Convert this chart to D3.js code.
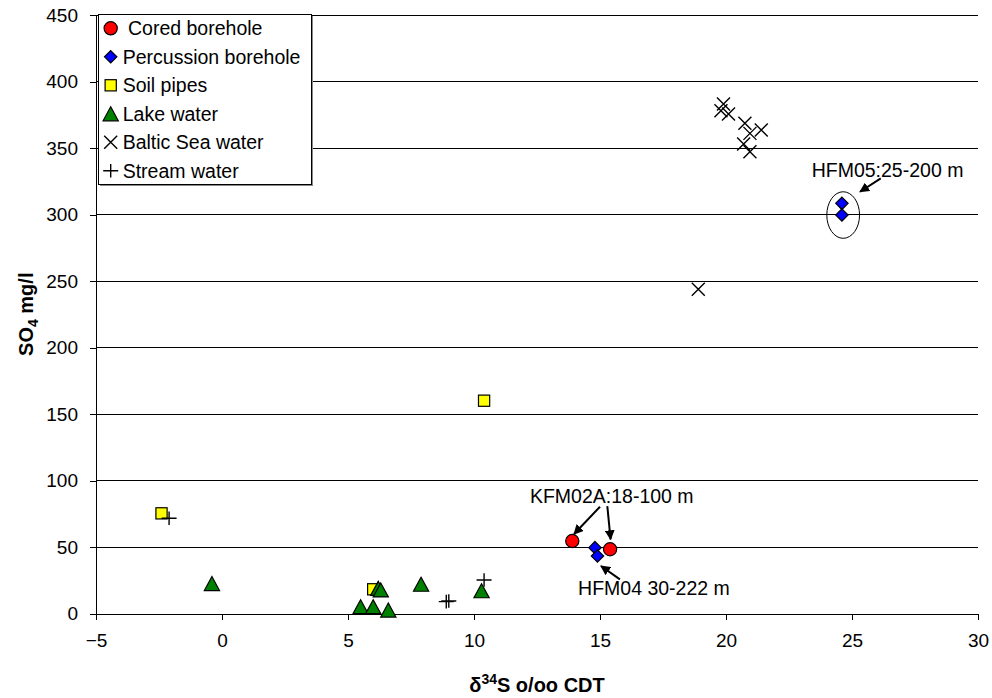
<!DOCTYPE html>
<html>
<head>
<meta charset="utf-8">
<script src="https://cdn.jsdelivr.net/npm/d3@7"></script>
<style>
  html, body { margin: 0; padding: 0; background: #fff; }
  svg { display: block; font-family: "Liberation Sans", Arial, sans-serif; }
</style>
</head>
<body>
<svg id="chart" width="992" height="698"></svg>
<script>
// ---- data: δ34S (‰ CDT) vs SO4 (mg/l) ----
const coredX = [13.9, 15.4];
const coredY = [54.5, 48.3];

const percussionX = [14.8, 14.9, 24.6, 24.6];
const percussionY = [49.5, 43.2, 308.4, 299.6];

const soilX = [-2.4, 6.0, 10.4];
const soilY = [75.3, 18.2, 160];

const lakeX = [-0.4, 5.5, 6.0, 6.6, 6.2, 6.3, 7.9, 10.3];
const lakeY = [22.5, 5.1, 5.1, 2.6, 18.9, 17.7, 22.0, 17.1];

const balticX = [18.9, 19.9, 19.8, 20.1, 20.75, 21.4, 20.95, 20.7, 20.95];
const balticY = [243.8, 383, 378, 375.6, 368.6, 363.5, 361, 353, 347.2];

const streamX = [-2.1, 8.9, 9.0, 10.4];
const streamY = [71.6, 8.9, 9.4, 25.2];

const seriesNames = ["Cored borehole", "Percussion borehole", "Soil pipes",
                     "Lake water", "Baltic Sea water", "Stream water"];

const xTicks = [-5, 0, 5, 10, 15, 20, 25, 30];
const yTicks = [0, 50, 100, 150, 200, 250, 300, 350, 400, 450];

// annotation labels (data units)
const noteTexts = ["HFM05:25-200 m", "KFM02A:18-100 m", "HFM04 30-222 m"];
const noteAt = [[23.4, 328.0], [12.22, 83.3], [14.13, 13.9]];
const arrowFrom = [[26.14, 327.2], [15.0, 80.3], [15.29, 80.8], [15.79, 25.7]];
const arrowTo   = [[25.32, 317.1], [13.97, 59.8], [15.42, 55.8], [15.04, 35.7]];
const ringCenter = [24.65, 299.6];
const ringRadius = [0.65, 17.5];

// ---- layout ----
const svg = d3.select("#chart");
const plot = { left: 96, right: 978, top: 15, bottom: 613.5 };

const x = d3.scaleLinear().domain([-5, 30]).range([plot.left, plot.right]);
const y = d3.scaleLinear().domain([0, 450]).range([plot.bottom, plot.top]);

// marker styles per series
const shapes = {
  circle: g => g.append("circle").attr("r", 6.6)
      .attr("fill", "#FF0000").attr("stroke", "#000").attr("stroke-width", 1.2),
  diamond: g => g.append("path").attr("d", "M0,-6.2L6.2,0L0,6.2L-6.2,0Z")
      .attr("fill", "#0000FF").attr("stroke", "#000").attr("stroke-width", 1.2),
  square: g => g.append("rect").attr("x", -5.6).attr("y", -5.6).attr("width", 11.2).attr("height", 11.2)
      .attr("fill", "#FFFF00").attr("stroke", "#000").attr("stroke-width", 1.2),
  triangle: g => g.append("path").attr("d", "M0,-7L7.6,7L-7.6,7Z")
      .attr("fill", "#008000").attr("stroke", "#000").attr("stroke-width", 1.2),
  cross: g => g.append("path").attr("d", "M-6.5,-6.5L6.5,6.5M-6.5,6.5L6.5,-6.5")
      .attr("fill", "none").attr("stroke", "#000").attr("stroke-width", 1.4),
  plus: g => g.append("path").attr("d", "M-7.5,0L7.5,0M0,-6.8L0,6.8")
      .attr("fill", "none").attr("stroke", "#000").attr("stroke-width", 1.4)
};

const series = [
  { name: seriesNames[0], xs: coredX, ys: coredY, shape: "circle" },
  { name: seriesNames[1], xs: percussionX, ys: percussionY, shape: "diamond" },
  { name: seriesNames[2], xs: soilX, ys: soilY, shape: "square" },
  { name: seriesNames[3], xs: lakeX, ys: lakeY, shape: "triangle" },
  { name: seriesNames[4], xs: balticX, ys: balticY, shape: "cross" },
  { name: seriesNames[5], xs: streamX, ys: streamY, shape: "plus" }
];

// ---- gridlines ----
svg.append("g")
  .selectAll("line")
  .data(yTicks.filter(v => v > 0))
  .join("line")
  .attr("x1", plot.left).attr("x2", plot.right)
  .attr("y1", d => y(d)).attr("y2", d => y(d))
  .attr("stroke", "#000").attr("stroke-width", 1)
  .attr("shape-rendering", "crispEdges");

// ---- axes ----
const xAxis = svg.append("g")
  .attr("transform", `translate(0,${plot.bottom})`)
  .call(d3.axisBottom(x).tickValues(xTicks).tickSize(6).tickSizeOuter(0).tickFormat(d3.format("d")));
xAxis.selectAll("text").attr("y", 20).attr("dy", "0.71em")
  .attr("font-size", 19).attr("fill", "#000").attr("font-family", "Liberation Sans, Arial, sans-serif");

const yAxis = svg.append("g")
  .attr("transform", `translate(${plot.left},0)`)
  .call(d3.axisLeft(y).tickValues(yTicks).tickSize(6).tickSizeOuter(0).tickPadding(12));
yAxis.selectAll("text")
  .attr("font-size", 19).attr("fill", "#000").attr("font-family", "Liberation Sans, Arial, sans-serif");

[xAxis, yAxis].forEach(a => {
  a.selectAll("path, line").attr("stroke", "#000").attr("shape-rendering", "crispEdges");
});

// ---- axis titles ----
const yTitle = svg.append("text")
  .attr("transform", `translate(33,${(plot.top + plot.bottom) / 2}) rotate(-90)`)
  .attr("text-anchor", "middle")
  .attr("font-size", 20).attr("font-weight", "bold");
yTitle.append("tspan").text("SO");
yTitle.append("tspan").attr("font-size", 14).attr("dy", 5).text("4");
yTitle.append("tspan").attr("dy", -5).text(" mg/l");

const xTitle = svg.append("text")
  .attr("x", (plot.left + plot.right) / 2).attr("y", 692)
  .attr("text-anchor", "middle")
  .attr("font-size", 20).attr("font-weight", "bold");
xTitle.append("tspan").text("δ");
xTitle.append("tspan").attr("font-size", 14).attr("dy", -8).text("34");
xTitle.append("tspan").attr("dy", 8).text("S o/oo CDT");

// ---- points ----
series.forEach(s => {
  const pts = s.xs.map((v, i) => [v, s.ys[i]]);
  svg.append("g").selectAll("g")
    .data(pts)
    .join("g")
    .attr("transform", d => `translate(${x(d[0])},${y(d[1])})`)
    .each(function () { shapes[s.shape](d3.select(this)); });
});

// ---- annotations ----
svg.append("defs").append("marker")
  .attr("id", "arrowhead")
  .attr("viewBox", "0 0 10 10").attr("refX", 9).attr("refY", 5)
  .attr("markerWidth", 5).attr("markerHeight", 5)
  .attr("markerUnits", "strokeWidth")
  .attr("orient", "auto")
  .append("path").attr("d", "M0,0L10,5L0,10Z").attr("fill", "#000");

svg.append("g").selectAll("line")
  .data(arrowFrom.map((f, i) => [f, arrowTo[i]]))
  .join("line")
  .attr("x1", d => x(d[0][0])).attr("y1", d => y(d[0][1]))
  .attr("x2", d => x(d[1][0])).attr("y2", d => y(d[1][1]))
  .attr("stroke", "#000").attr("stroke-width", 2)
  .attr("marker-end", "url(#arrowhead)");

svg.append("ellipse")
  .attr("cx", x(ringCenter[0])).attr("cy", y(ringCenter[1]))
  .attr("rx", x(ringCenter[0] + ringRadius[0]) - x(ringCenter[0]))
  .attr("ry", y(ringCenter[1]) - y(ringCenter[1] + ringRadius[1]))
  .attr("fill", "none").attr("stroke", "#000").attr("stroke-width", 1);

svg.append("g").selectAll("text")
  .data(noteTexts.map((t, i) => [t, noteAt[i]]))
  .join("text")
  .attr("x", d => x(d[1][0])).attr("y", d => y(d[1][1]))
  .attr("font-size", 19.5).attr("fill", "#000")
  .text(d => d[0]);

// ---- legend ----
const legend = svg.append("g").attr("transform", "translate(98,14)");
const lw = 213, lh = 170;
legend.append("rect").attr("x", 2).attr("y", 2).attr("width", lw).attr("height", lh).attr("fill", "#888");
legend.append("rect").attr("x", 0.5).attr("y", 0.5).attr("width", lw).attr("height", lh)
  .attr("fill", "#fff").attr("stroke", "#000").attr("stroke-width", 1);

series.forEach((s, i) => {
  const cy = 14.3 + i * 28.5;
  const item = legend.append("g").attr("transform", `translate(12.7,${cy})`);
  shapes[s.shape](item);
  legend.append("text")
    .attr("x", i === 0 ? 30 : 24.7).attr("y", cy + 7)
    .attr("font-size", 19.5).attr("fill", "#000")
    .text(s.name);
});
</script>
</body>
</html>
